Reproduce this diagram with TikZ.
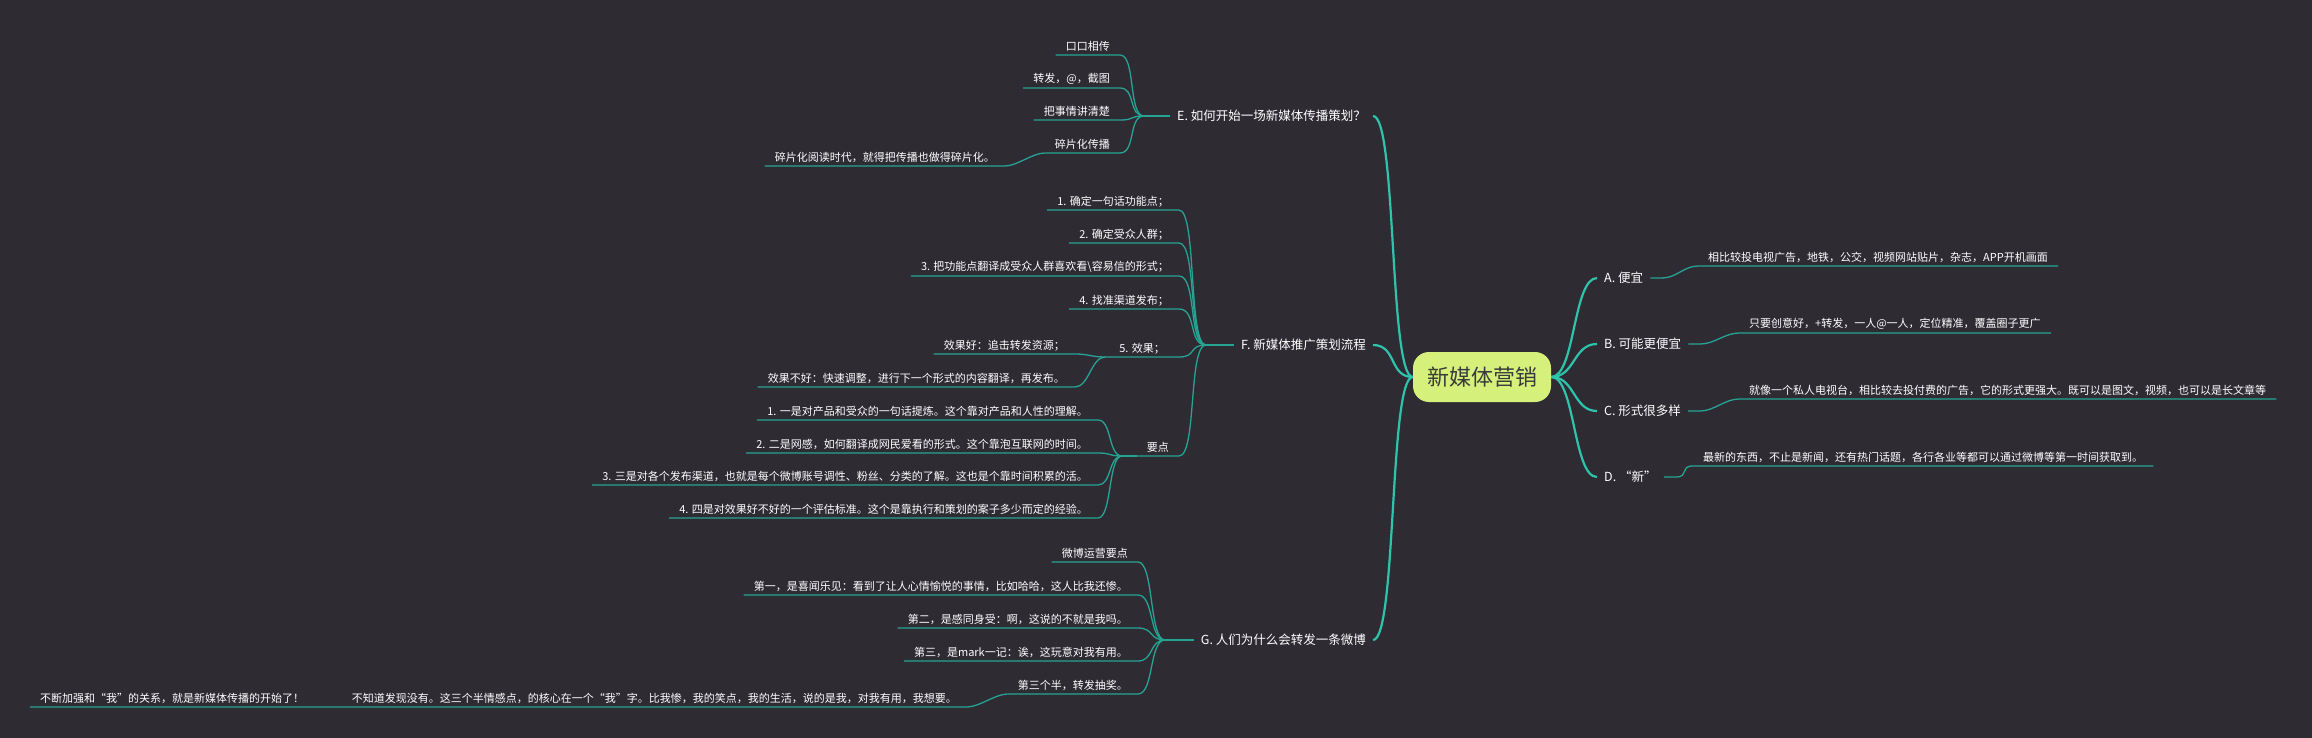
\documentclass[tikz,border=0pt]{standalone}
\usepackage{fontspec}
\newfontfamily\cjk{Noto Sans CJK SC}
\definecolor{bg}{HTML}{2E2B33}
\definecolor{mainc}{HTML}{2EC4AC}
\definecolor{subc}{HTML}{26A393}
\definecolor{rootc}{HTML}{D6F07C}
\definecolor{roottxt}{HTML}{3A3A3A}
\tikzset{
  rootnode/.style={fill=rootc,rounded corners=16pt,minimum width=138pt,minimum height=50pt,font=\cjk\fontsize{22}{24}\selectfont,text=roottxt,inner sep=0pt},
  lbl/.style={text=white,font=\cjk\fontsize{12.5}{14}\selectfont,inner xsep=7pt,inner ysep=2pt},
  itm/.style={text=white,font=\cjk\fontsize{11}{13}\selectfont,inner xsep=10pt,inner ysep=3pt,anchor=south east},
  mainl/.style={draw=mainc,line width=2.2pt},
  subl/.style={draw=subc,line width=1.3pt},
}
\begin{document}
\begin{tikzpicture}[x=1pt,y=-1pt]
\fill[bg] (0,0) rectangle (2312,738);
\useasboundingbox (0,0) rectangle (2312,738);
\node[rootnode] (root) at (1482,377) {新媒体营销};

% right side
\node[lbl,anchor=west] (A) at (1597,278) {A. 便宜};
\node[lbl,anchor=west] (B) at (1597,344) {B. 可能更便宜};
\node[lbl,anchor=west] (C) at (1597,411) {C. 形式很多样};
\node[lbl,anchor=west] (D) at (1597,477) {D. “新”};
\foreach \n in {A,B,C,D}{\draw[mainl] (root.east) .. controls +(24,0) and +(-24,0) .. (\n.west);}
\node[itm,anchor=south west] (Ad) at (1698,266) {相比较投电视广告，地铁，公交，视频网站贴片，杂志，APP开机画面};
\node[itm,anchor=south west] (Bd) at (1739,333) {只要创意好，+转发，一人@一人，定位精准，覆盖圈子更广};
\node[itm,anchor=south west] (Cd) at (1739,399) {就像一个私人电视台，相比较去投付费的广告，它的形式更强大。既可以是图文，视频，也可以是长文章等};
\node[itm,anchor=south west] (Dd) at (1693,466) {最新的东西，不止是新闻，还有热门话题，各行各业等都可以通过微博等第一时间获取到。};
\foreach \n in {A,B,C,D}{\draw[subl] (\n.east) -- ++(12,0) .. controls +(14,0) and +(-14,0) .. (\n d.south west) -- (\n d.south east);}

% left main branches
\node[lbl,anchor=east] (E) at (1373,116) {E. 如何开始一场新媒体传播策划？};
\node[lbl,anchor=east] (F) at (1373,345) {F. 新媒体推广策划流程};
\node[lbl,anchor=east] (G) at (1373,640) {G. 人们为什么会转发一条微博};
\foreach \n in {E,F,G}{\draw[mainl] (root.west) .. controls +(-24,0) and +(24,0) .. (\n.east);}
\coordinate (fE) at (1144,116);
\coordinate (fF) at (1206,345);
\coordinate (fG) at (1165,640);
\draw[subl] (E.west) -- (fE);
\draw[subl] (F.west) -- (fF);
\draw[subl] (G.west) -- (fG);

\node[itm] (e1) at (1120,55) {口口相传};
\node[itm] (e2) at (1120,88) {转发，@，截图};
\node[itm] (e3) at (1120,120) {把事情讲清楚};
\node[itm] (e4) at (1120,153) {碎片化传播};
\foreach \n in {e1,e2,e3,e4}{\draw[subl] (fE) .. controls +(-16,0) and +(16,0) .. (\n.south east) -- (\n.south west);}
\node[itm] (e41) at (1005,166) {碎片化阅读时代，就得把传播也做得碎片化。};
\draw[subl] (e4.south west) .. controls +(-12,0) and +(12,0) .. (e41.south east) -- (e41.south west);

% F
\node[itm] (f1) at (1179,210) {1. 确定一句话功能点；};
\node[itm] (f2) at (1179,243) {2. 确定受众人群；};
\node[itm] (f3) at (1179,276) {3. 把功能点翻译成受众人群喜欢看\textbackslash 容易信的形式；};
\node[itm] (f4) at (1179,309) {4. 找准渠道发布；};
\node[itm,inner xsep=14pt] (f5) at (1179,357) {5. 效果；};
\node[itm] (f6) at (1179,456) {要点};
\foreach \n in {f1,f2,f3,f4,f5,f6}{\draw[subl] (fF) .. controls +(-18,0) and +(18,0) .. (\n.south east) -- (\n.south west);}
\node[itm] (f51) at (1075,354) {效果好：追击转发资源；};
\node[itm] (f52) at (1075,387) {效果不好：快速调整，进行下一个形式的内容翻译，再发布。};
\foreach \n in {f51,f52}{\draw[subl] (f5.south west) .. controls +(-14,0) and +(14,0) .. (\n.south east) -- (\n.south west);}
\coordinate (fP) at (1122,456);
\draw[subl] (f6.south west) -- (fP);
\node[itm] (p1) at (1098,420) {1. 一是对产品和受众的一句话提炼。这个靠对产品和人性的理解。};
\node[itm] (p2) at (1098,453) {2. 二是网感，如何翻译成网民爱看的形式。这个靠泡互联网的时间。};
\node[itm] (p3) at (1098,485) {3. 三是对各个发布渠道，也就是每个微博账号调性、粉丝、分类的了解。这也是个靠时间积累的活。};
\node[itm] (p4) at (1098,518) {4. 四是对效果好不好的一个评估标准。这个是靠执行和策划的案子多少而定的经验。};
\foreach \n in {p1,p2,p3,p4}{\draw[subl] (fP) .. controls +(-14,0) and +(14,0) .. (\n.south east) -- (\n.south west);}

% G
\node[itm] (g1) at (1138,562) {微博运营要点};
\node[itm] (g2) at (1138,595) {第一，是喜闻乐见：看到了让人心情愉悦的事情，比如哈哈，这人比我还惨。};
\node[itm] (g3) at (1138,628) {第二，是感同身受：啊，这说的不就是我吗。};
\node[itm] (g4) at (1138,661) {第三，是mark一记：诶，这玩意对我有用。};
\node[itm] (g5) at (1138,694) {第三个半，转发抽奖。};
\foreach \n in {g1,g2,g3,g4,g5}{\draw[subl] (fG) .. controls +(-16,0) and +(16,0) .. (\n.south east) -- (\n.south west);}
\node[itm] (g51) at (967,707) {不知道发现没有。这三个半情感点，的核心在一个“我”字。比我惨，我的笑点，我的生活，说的是我，对我有用，我想要。};
\node[itm,anchor=south west] (g52) at (30,707) {不断加强和“我”的关系，就是新媒体传播的开始了！};
\draw[subl] (g5.south west) .. controls +(-12,0) and +(12,0) .. (g51.south east) -- (g51.south west) -- (g52.south west);
\end{tikzpicture}
\end{document}
